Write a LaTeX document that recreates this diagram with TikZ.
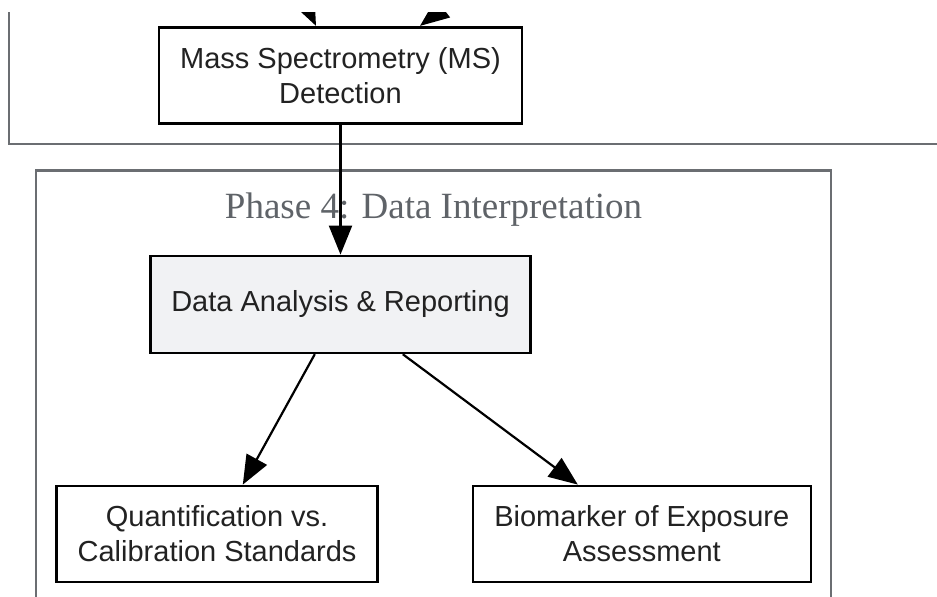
\documentclass[tikz,border=0pt]{standalone}
\usepackage{fontspec}
\setmainfont{Liberation Sans}
\newfontfamily\phasefont{Liberation Serif}
\usetikzlibrary{arrows.meta,positioning}
\definecolor{clusterline}{HTML}{6B6E72}
\definecolor{phasetext}{HTML}{5F6368}
\definecolor{datafill}{HTML}{F1F2F4}
\definecolor{nodetext}{HTML}{222222}

\begin{document}
\begin{tikzpicture}[x=1pt,y=-1pt,on grid,
  box/.style={draw=black,line width=2.6pt,fill=white,text=nodetext,align=center,
    font=\fontsize{29}{35}\selectfont,inner sep=0pt},
  cluster/.style={draw=clusterline,line width=2.2pt},
  flow/.style={-{Triangle[length=29pt,width=23pt]},line width=2.2pt}]
  \useasboundingbox (0,0) rectangle (937,597);
  \clip (0,12.7) rectangle (937,597);
  \draw[cluster] (9,-20) rectangle (960,144.3);
  \draw[cluster] (36,170.5) rectangle (831,620);
  \node[text=phasetext,font=\phasefont\fontsize{37}{44}\selectfont,anchor=base] (phase4) at (433.5,218) {Phase 4: Data Interpretation};
  \coordinate (prevleft) at (274,-64);
  \coordinate (prevright) at (538,-65.4);
  \node[box,minimum width=363pt,minimum height=96pt] (ms) at (340.5,75.2) {Mass Spectrometry (MS)\\Detection};
  \node[box,fill=datafill,minimum width=380pt,minimum height=97pt] (analysis) [below=229.2pt of ms] {Data Analysis \& Reporting};
  \node[box,minimum width=321pt,minimum height=96pt] (quant) [below left=229.5pt and 123.4pt of analysis] {Quantification vs.\\Calibration Standards};
  \node[box,minimum width=338pt,minimum height=96pt] (biomarker) [below right=229.5pt and 301.3pt of analysis] {Biomarker of Exposure\\Assessment};
  \path[flow]
    (prevleft) edge ([xshift=-24.5pt]ms.north)
    (prevright) edge ([xshift=79.5pt]ms.north)
    (ms) edge (analysis)
    ([xshift=-25.7pt]analysis.south) edge ([xshift=25.7pt]quant.north)
    ([xshift=62.3pt]analysis.south) edge ([xshift=-64pt]biomarker.north);
\end{tikzpicture}
\end{document}
